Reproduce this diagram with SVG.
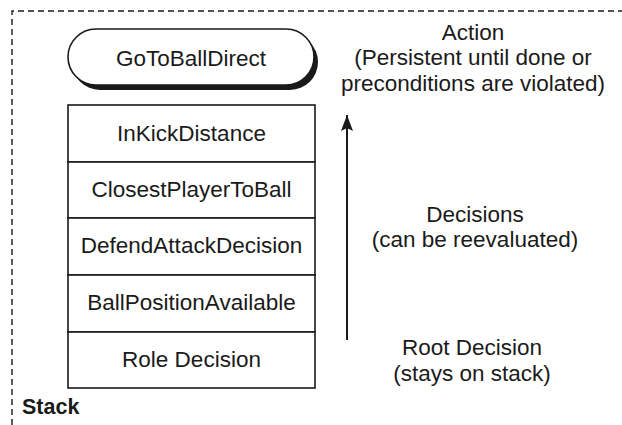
<svg xmlns="http://www.w3.org/2000/svg" width="622" height="425" viewBox="0 0 622 425">
<defs>
<style>
text{font-family:"Liberation Sans",Arial,sans-serif;fill:#1a1a1a;text-anchor:middle}
.lbl{font-size:22.5px}
.note{font-size:22.5px}
.box{fill:#fff;stroke:#1a1a1a;stroke-width:1.6}
.border{fill:none;stroke:#1a1a1a;stroke-width:1.4;stroke-dasharray:6 4}
</style>
<marker id="ah" markerWidth="16" markerHeight="12" refX="16" refY="6" orient="auto" markerUnits="userSpaceOnUse" viewBox="0 0 16 12">
<path d="M16 6 L0 0 L3 6 L0 12 Z" fill="#1a1a1a"/>
</marker>
</defs>
<rect width="622" height="425" fill="#fff"/>
<path class="border" d="M12 425 V11 H622"/>
<g id="action">
<rect x="72" y="34" width="246" height="56" rx="28" fill="#1a1a1a"/>
<rect class="box" x="68" y="29" width="246" height="56" rx="28"/>
<text class="lbl" x="191" y="66">GoToBallDirect</text>
</g>
<g id="inkick">
<rect class="box" x="68" y="105" width="247" height="57"/>
<text class="lbl" x="191.5" y="141">InKickDistance</text>
</g>
<g id="closest">
<rect class="box" x="68" y="162" width="247" height="56"/>
<text class="lbl" x="191.5" y="197">ClosestPlayerToBall</text>
</g>
<g id="defend">
<rect class="box" x="68" y="218" width="247" height="57"/>
<text class="lbl" x="191.5" y="253">DefendAttackDecision</text>
</g>
<g id="ballpos">
<rect class="box" x="68" y="275" width="247" height="57"/>
<text class="lbl" x="191.5" y="310">BallPositionAvailable</text>
</g>
<g id="role">
<rect class="box" x="68" y="332" width="247" height="56"/>
<text class="lbl" x="191.5" y="367">Role Decision</text>
</g>
<g id="connectors">
<line x1="347" y1="340" x2="347" y2="115" stroke="#1a1a1a" stroke-width="2" marker-end="url(#ah)"/>
</g>
<g id="notes">
<text class="note" x="473" y="40">Action</text>
<text class="note" x="473" y="65">(Persistent until done or</text>
<text class="note" x="473" y="91">preconditions are violated)</text>
<text class="note" x="475" y="222">Decisions</text>
<text class="note" x="475" y="247">(can be reevaluated)</text>
<text class="note" x="472" y="355">Root Decision</text>
<text class="note" x="472" y="381">(stays on stack)</text>
<text x="22" y="414" style="font-size:21.5px;font-weight:bold;text-anchor:start">Stack</text>
</g>
</svg>
